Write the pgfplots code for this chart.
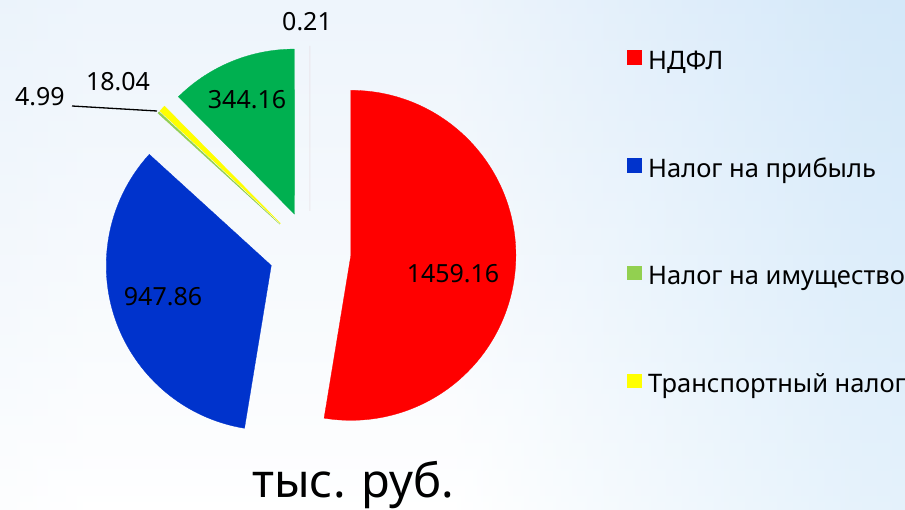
\documentclass[border=0pt]{standalone}
\usepackage{pgfplots}
\pgfplotsset{compat=1.18}
\usepackage{pgfplotstable}
\usepackage{fontspec}
\setmainfont{Noto Sans}
\definecolor{cRed}{RGB}{255,0,0}
\definecolor{cBlue}{RGB}{0,51,204}
\definecolor{cLGreen}{RGB}{146,208,80}
\definecolor{cYellow}{RGB}{255,255,0}
\definecolor{cGreen}{RGB}{0,176,80}
\definecolor{cPale}{RGB}{225,205,210}
\definecolor{bgL}{RGB}{222,236,250}
\definecolor{bgR}{RGB}{172,213,244}
\pgfdeclarehorizontalshading{bgh}{100bp}{color(0bp)=(bgL); color(30bp)=(white); color(50bp)=(white); color(72bp)=(bgR!60!white); color(100bp)=(bgR)}

\pgfplotstableread{
value fillc
1459.16 cRed
947.86 cBlue
4.99 cLGreen
18.04 cYellow
344.16 cGreen
0.21 cPale
}\piedata

\begin{document}
\begin{tikzpicture}
\shade[shading=bgh] (0,0) rectangle (905pt,509pt);
\shade[top color=bgL, middle color=white, bottom color=white, opacity=0.5] (0,0) rectangle (905pt,509pt);
\begin{axis}[
  x=1pt, y=1pt, xmin=0, xmax=905, ymin=0, ymax=509,
  at={(0,0)}, anchor=south west,
  hide axis, clip=false,
  legend style={at={(axis cs:627,459)}, anchor=north west, draw=none, fill=none,
    inner sep=0pt, row sep=85.3pt, font=\fontsize{25.5}{30}\selectfont,
    nodes={inner sep=1pt, text height=0.75em, text depth=0.25em}},
  legend cell align=left,
  legend image code/.code={\fill[#1,draw=none] (0pt,2pt) rectangle (15pt,16.5pt);\path[draw=none,fill=none] (20pt,0pt);},
]
\pgfplotstablegetrowsof{\piedata}
\pgfmathtruncatemacro\Nlast{\pgfplotsretval-1}
\def\ptotal{0}
\pgfplotsforeachungrouped \i in {0,...,\Nlast}{%
  \pgfplotstablegetelem{\i}{value}\of\piedata
  \pgfmathsetmacro\ptotal{\ptotal+\pgfplotsretval}%
}
\def\pcum{0}
\pgfplotsforeachungrouped \i in {0,...,\Nlast}{%
  \pgfplotstablegetelem{\i}{value}\of\piedata \let\pval\pgfplotsretval
  \pgfplotstablegetelem{\i}{fillc}\of\piedata \let\pcol\pgfplotsretval
  \pgfmathsetmacro\pas{90-(\pcum/\ptotal)*360}%
  \pgfmathsetmacro\pae{90-((\pcum+\pval)/\ptotal)*360}%
  \pgfmathsetmacro\pam{(\pas+\pae)/2}%
  \pgfmathsetmacro\pcx{310+41*cos(\pam)}%
  \pgfmathsetmacro\pcy{257+41*sin(\pam)}%
  \edef\pwedge{\noexpand\fill[fill=\pcol, draw=\pcol, line width=0.3pt] (axis cs:\pcx,\pcy) -- ++(\pas:165pt) arc[start angle=\pas, end angle=\pae, radius=165pt] -- cycle;}%
  \pwedge
  \pgfmathsetmacro\pcum{\pcum+\pval}%
}
\addlegendimage{fill=cRed}
\addlegendentry{НДФЛ}
\addlegendimage{fill=cBlue}
\addlegendentry{Налог на прибыль}
\addlegendimage{fill=cLGreen}
\addlegendentry{Налог на имущество}
\addlegendimage{fill=cYellow}
\addlegendentry{Транспортный налог}

\draw[black, line width=1.3pt] (axis cs:72,403) -- (axis cs:157,398);
\begin{scope}[every node/.style={font=\fontsize{25}{30}\selectfont, text=black}]
\node at (axis cs:453,235) {1459.16};
\node at (axis cs:163,212) {947.86};
\node at (axis cs:247,409) {344.16};
\node at (axis cs:118,427) {18.04};
\node at (axis cs:40,412) {4.99};
\node at (axis cs:307,487) {0.21};
\end{scope}
\node[anchor=base, font=\fontsize{47}{50}\selectfont] at (axis cs:353,12) {тыс. руб.};
\end{axis}
\pgfresetboundingbox
\path (0,0) rectangle (905pt,509pt);
\end{tikzpicture}
\end{document}
